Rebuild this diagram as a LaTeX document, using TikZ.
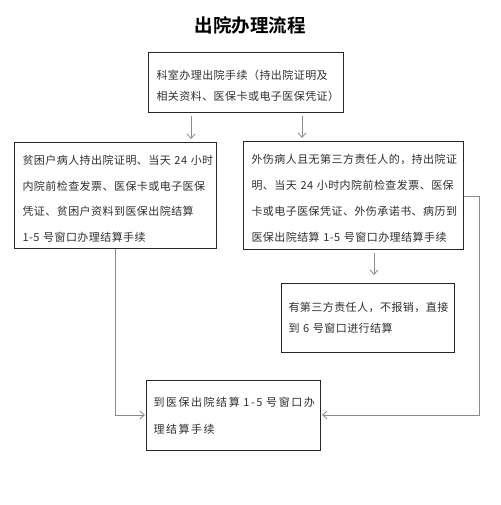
\documentclass[tikz,border=0pt]{standalone}
\usepackage{fontspec}
\setmainfont{Noto Sans CJK SC}[LetterSpace=4]
\newfontfamily\widefont{Noto Sans CJK SC}[LetterSpace=14]
\newfontfamily\titlefont{Noto Sans CJK SC}[BoldFont=* Bold]
\usetikzlibrary{arrows.meta}
\definecolor{txt}{HTML}{2E2E2E}
\definecolor{conn}{HTML}{8A8A8A}
\newcommand\firstln{\rule{0pt}{15.5pt}}
\tikzset{
  box/.style={draw=black!85, line width=1.1pt, rectangle, inner xsep=8pt, inner ysep=0pt,
    align=left, text=txt, anchor=north west},
  arr/.style={draw=conn, line width=0.8pt, -{Straight Barb[length=4.5pt,width=8pt]}},
}
\begin{document}
\begin{tikzpicture}[x=1pt,y=-1pt]
\useasboundingbox (0,0) rectangle (500,505);
\node[font=\titlefont\bfseries\fontsize{18.5}{22}\selectfont, text=black] (title) at (250,25) {出院办理流程};

\node[box, minimum width=195pt, minimum height=60pt, text width=179pt,
  font=\fontsize{11}{21}\selectfont] (b1) at (148,52)
  {\firstln 科室办理出院手续（持出院证明及\\相关资料、医保卡或电子医保凭证）};

\node[box, minimum width=202pt, minimum height=106pt, text width=186pt,
  font=\fontsize{11}{25.5}\selectfont] (b2) at (14,142)
  {\firstln 贫困户病人持出院证明、当天~24~小时\\内院前检查发票、医保卡或电子医保\\凭证、贫困户资料到医保出院结算\\1-5~号窗口办理结算手续};

\node[box, minimum width=220pt, minimum height=108pt, text width=204pt,
  font=\fontsize{11}{26}\selectfont] (b3) at (243,141)
  {\firstln 外伤病人且无第三方责任人的，持出院证\\明、当天~24~小时内院前检查发票、医保\\卡或电子医保凭证、外伤承诺书、病历到\\医保出院结算~1-5~号窗口办理结算手续};

\node[box, minimum width=173pt, minimum height=69pt, text width=159pt, inner xsep=7pt,
  font=\fontsize{11}{21}\selectfont] (b4) at (281,283)
  {有第三方责任人，不报销，直接\\到~6~号窗口进行结算};

\node[box, minimum width=174pt, minimum height=70pt, text width=160pt, inner xsep=7pt,
  font=\widefont\fontsize{11}{27}\selectfont] (b5) at (146,380)
  {到医保出院结算~1-5~号窗口办\\理结算手续};

\coordinate (xa) at (191,0);
\coordinate (xb) at (302,0);
\coordinate (xc) at (374,0);
\coordinate (xd) at (115,0);
\coordinate (xe) at (479,0);
\coordinate (ym) at (0,415);
\coordinate (yr) at (0,196);

\draw[arr, shorten <=3pt, shorten >=3pt] (b1.south -| xa) -- (b2.north -| xa);
\draw[arr, shorten <=3pt, shorten >=3pt] (b1.south -| xb) -- (b3.north -| xb);
\draw[arr, shorten <=3pt, shorten >=8pt] (b3.south -| xc) -- (b4.north -| xc);
\draw[arr, shorten >=1pt] (b2.south -| xd) -- (xd |- ym) -- (b5.west |- ym);
\draw[arr, shorten >=1pt] (b3.east |- yr) -- (xe |- yr) -- (xe |- ym) -- (b5.east |- ym);
\end{tikzpicture}
\end{document}
